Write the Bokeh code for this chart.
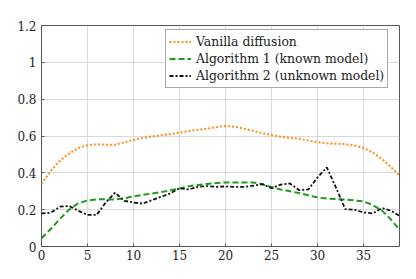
from bokeh.plotting import figure
from bokeh.models import Range1d, Legend, LegendItem, FixedTicker
from bokeh.embed import file_html
from bokeh.resources import INLINE

x = list(range(40))
vanilla = [0.34, 0.41, 0.465, 0.505, 0.535, 0.55, 0.555, 0.553, 0.553, 0.565,
           0.578, 0.59, 0.598, 0.604, 0.61, 0.618, 0.627, 0.634, 0.64, 0.648,
           0.655, 0.65, 0.64, 0.628, 0.615, 0.605, 0.596, 0.59, 0.585, 0.575,
           0.566, 0.56, 0.558, 0.556, 0.548, 0.535, 0.51, 0.475, 0.43, 0.38]
algo1 = [0.045, 0.095, 0.15, 0.2, 0.235, 0.25, 0.256, 0.256, 0.255, 0.262,
         0.272, 0.28, 0.288, 0.295, 0.305, 0.315, 0.327, 0.334, 0.34, 0.345,
         0.348, 0.348, 0.348, 0.348, 0.338, 0.322, 0.31, 0.3, 0.29, 0.278,
         0.266, 0.26, 0.258, 0.255, 0.25, 0.245, 0.225, 0.195, 0.145, 0.085]
algo2 = [0.18, 0.183, 0.216, 0.22, 0.194, 0.172, 0.172, 0.24, 0.292, 0.248,
         0.239, 0.233, 0.252, 0.27, 0.288, 0.317, 0.31, 0.324, 0.328, 0.324,
         0.326, 0.324, 0.324, 0.33, 0.339, 0.317, 0.336, 0.342, 0.306, 0.31,
         0.375, 0.43, 0.32, 0.203, 0.2, 0.185, 0.18, 0.209, 0.194, 0.163]
labels = ["Vanilla diffusion", "Algorithm 1 (known model)", "Algorithm 2 (unknown model)"]
x_ticks = [0, 5, 10, 15, 20, 25, 30, 35]
y_ticks = [0, 0.2, 0.4, 0.6, 0.8, 1.0, 1.2]

FONT = "DejaVu Serif"

p = figure(width=408, height=271, output_backend="svg", toolbar_location=None,
           x_range=Range1d(0, 38.9), y_range=Range1d(0, 1.2),
           min_border_left=41, min_border_right=9, min_border_top=25, min_border_bottom=25)
p.frame_width = 358
p.frame_height = 221

p.outline_line_color = "#555555"
p.outline_line_width = 1
for ax in (p.xaxis[0], p.yaxis[0]):
    ax.axis_line_color = None
    ax.major_tick_in = 3
    ax.major_tick_out = 0
    ax.major_tick_line_color = "#555555"
    ax.minor_tick_line_color = None
    ax.major_label_text_font = FONT
    ax.major_label_text_font_size = "12px"
    ax.major_label_text_color = "#222222"
p.xaxis.ticker = FixedTicker(ticks=x_ticks)
p.yaxis.ticker = FixedTicker(ticks=y_ticks)
p.yaxis.major_label_overrides = {0: "0", 1.0: "1"}
p.xaxis.major_label_standoff = 3
p.yaxis.major_label_standoff = 5
p.xgrid.ticker = FixedTicker(ticks=x_ticks)
p.ygrid.ticker = FixedTicker(ticks=y_ticks)
p.grid.grid_line_color = "#d8d8d8"
p.grid.grid_line_width = 1

r1 = p.line(x, vanilla, line_color="#ff8c1a", line_width=2, line_dash="2 2")
r2 = p.line(x, algo1, line_color="#1f9a1f", line_width=2, line_dash="6 3")
r3 = p.line(x, algo2, line_color="#111111", line_width=1.8, line_dash="4 2 2 2")

legend = Legend(items=[LegendItem(label=labels[0], renderers=[r1]),
                       LegendItem(label=labels[1], renderers=[r2]),
                       LegendItem(label=labels[2], renderers=[r3])],
                location=(124, 158))
legend.label_text_font = FONT
legend.label_text_font_size = "12.4px"
legend.label_text_color = "#222222"
legend.glyph_width = 22
legend.glyph_height = 17
legend.label_height = 17
legend.label_standoff = 5
legend.spacing = 0
legend.padding = 3
legend.margin = 0
legend.border_line_color = "#555555"
legend.border_line_width = 1
legend.background_fill_alpha = 1
p.add_layout(legend, "center")

open("out.html", "w").write(file_html(p, INLINE))
